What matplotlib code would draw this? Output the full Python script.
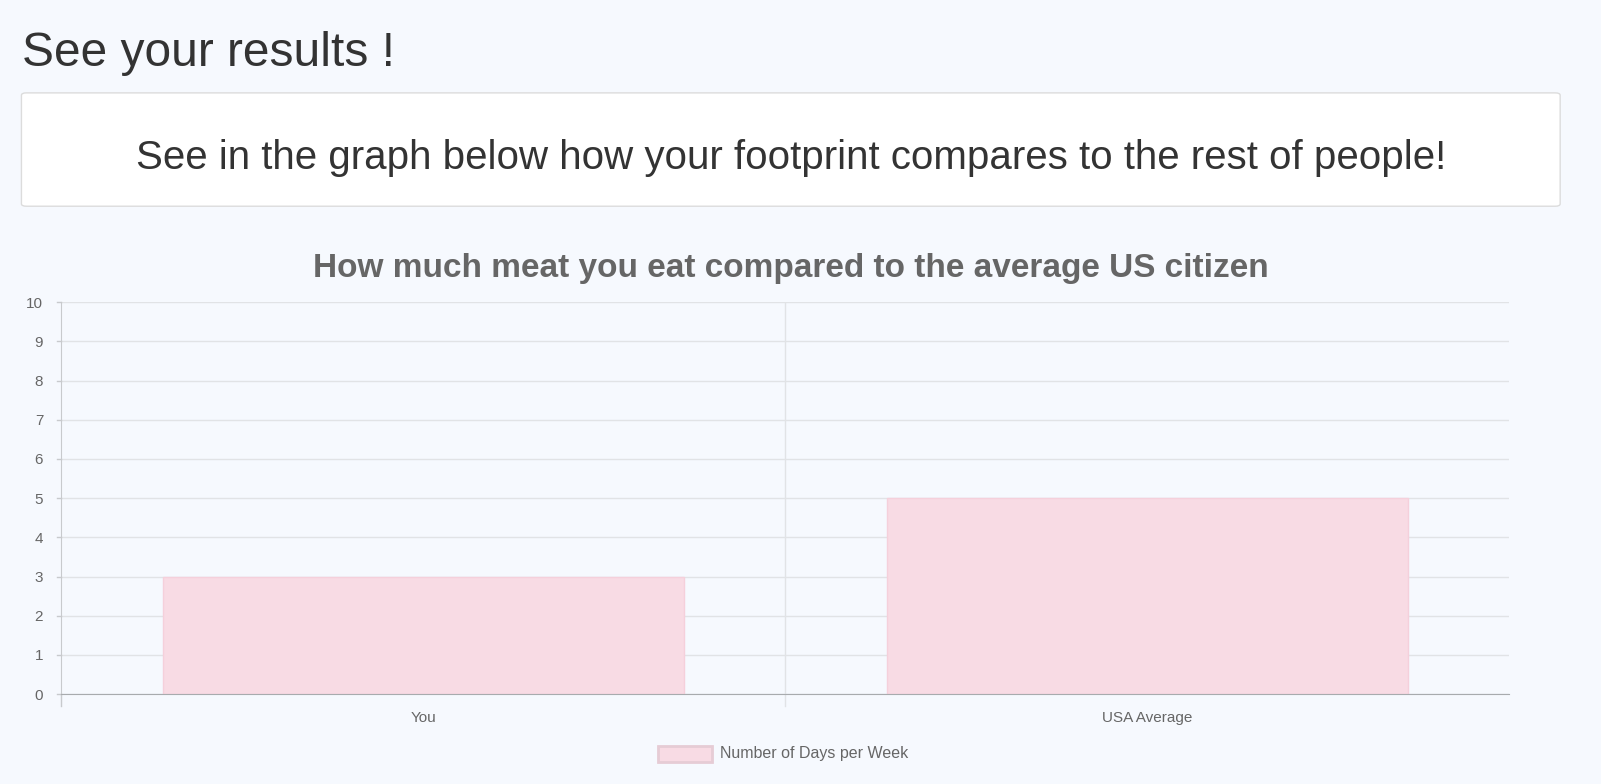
import matplotlib.pyplot as plt
from matplotlib.patches import Rectangle, FancyBboxPatch

categories = ["You", "USA Average"]
days_per_week = [3, 5]
y_ticks = list(range(0, 11))
legend_label = "Number of Days per Week"

W, H = 1568.0, 768.0  # layout measured in reference pixels
bg = "#f6f9fe"
bar_fill = "#f8dbe4"
bar_edge = "#f5d0db"
grid = "#e1e3e6"
text_grey = "#666666"

plt.rcParams["font.family"] = ["Liberation Sans", "DejaVu Sans"]

fig = plt.figure(figsize=(16.01, 7.84), dpi=100)
fig.patch.set_facecolor(bg)


def fx(x):
    return x / W


def fy(y):
    return 1 - y / H


fig.text(fx(22), fy(52), "See your results !", fontsize=34.5, color="#333333", va="center")
fig.patches.append(FancyBboxPatch((fx(21), fy(202)), fx(1507), (202 - 91) / H,
                                  boxstyle="round,pad=0,rounding_size=0.003",
                                  transform=fig.transFigure, facecolor="white",
                                  edgecolor="#dcdcdc", linewidth=1))
fig.text(fx(775), fy(155), "See in the graph below how your footprint compares to the rest of people!",
         fontsize=29, color="#333333", ha="center", va="center")
fig.text(fx(775), fy(263), "How much meat you eat compared to the average US citizen",
         fontsize=24, color=text_grey, ha="center", va="center", fontweight="bold")

ax = fig.add_axes([fx(60), fy(680), fx(1478 - 60), (680 - 296) / H])
ax.set_facecolor(bg)
x = list(range(len(categories)))
ax.bar(x, days_per_week, width=0.72, color=bar_fill, edgecolor=bar_edge, linewidth=1, zorder=2)
ax.set_xlim(-0.5, len(categories) - 0.5)
ax.set_ylim(0, 10)
ax.set_yticks(y_ticks)
ax.set_xticks(x)
ax.set_xticklabels(categories)
ax.yaxis.grid(True, color=grid, linewidth=1, zorder=0)
for xv in [i + 0.5 for i in x[:-1]]:
    ax.axvline(xv, color=grid, linewidth=1, zorder=0)
ax.tick_params(axis="both", colors=text_grey, labelsize=11, length=0)
ax.tick_params(axis="x", pad=12)
ax.tick_params(axis="y", pad=13)
for s in ["top", "right"]:
    ax.spines[s].set_visible(False)
ax.spines["left"].set_color("#c8cacd")
ax.spines["bottom"].set_color("#a8abae")
# small tick marks below the x axis at category boundaries
for xv in [-0.5] + [i + 0.5 for i in x[:-1]]:
    ax.plot([xv, xv], [0, -0.3], color=grid if xv > -0.5 else "#c8cacd", lw=1, clip_on=False)
for yv in y_ticks:
    ax.plot([-0.5 - 0.006, -0.5], [yv, yv], color="#c8cacd", lw=1, clip_on=False)

fig.patches.append(Rectangle((fx(644), fy(746)), fx(53), 15 / H, transform=fig.transFigure,
                             facecolor=bar_fill, edgecolor="#e6ccd5", linewidth=2))
fig.text(fx(705), fy(738), legend_label, fontsize=11.5, color=text_grey, va="center")

fig.savefig("out.png", dpi=100, facecolor=bg)
